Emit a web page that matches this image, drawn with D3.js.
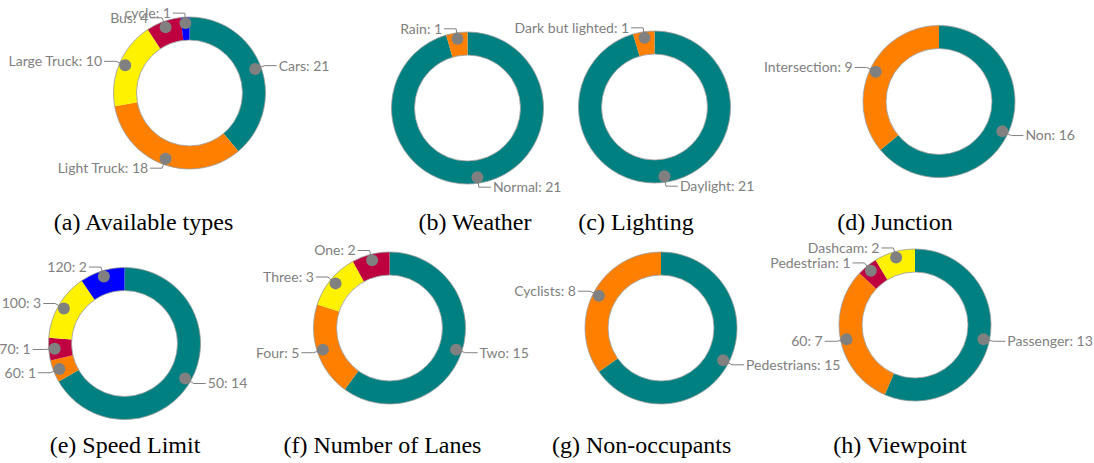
<!DOCTYPE html>
<html>
<head>
<meta charset="utf-8">
<script src="https://cdn.jsdelivr.net/npm/d3@7"></script>
<style>
  body { margin: 0; background: #fff; }
  svg { display: block; }
</style>
</head>
<body>
<div id="chart-container"></div>
<script>
// data, slices listed clockwise from 12 o'clock
const typesLabels = ['Cars', 'Light Truck', 'Large Truck', 'Bus', 'cycle']
const typesValues = [21, 18, 10, 4, 1]

const weatherLabels = ['Normal', 'Rain']
const weatherValues = [21, 1]

const lightingLabels = ['Daylight', 'Dark but lighted']
const lightingValues = [21, 1]

const junctionLabels = ['Non', 'Intersection']
const junctionValues = [16, 9]

const speedLabels = ['50', '60', '70', '100', '120']
const speedValues = [14, 1, 1, 3, 2]

const lanesLabels = ['Two', 'Four', 'Three', 'One']
const lanesValues = [15, 5, 3, 2]

const nonOccLabels = ['Pedestrians', 'Cyclists']
const nonOccValues = [15, 8]

const viewLabels = ['Passenger', '60', 'Pedestrian', 'Dashcam']
const viewValues = [13, 7, 1, 2]

const captions = ['(a) Available types', '(b) Weather', '(c) Lighting', '(d) Junction',
  '(e) Speed Limit', '(f) Number of Lanes', '(g) Non-occupants', '(h) Viewpoint']

// colours, one per slice
const teal = '#008080', orange = '#ff8000', yellow = '#fff200', purple = '#bf0040', blue = '#0000ff'
const typesColors = [teal, orange, yellow, purple, blue]
const speedColors = [teal, orange, purple, yellow, blue]
const lanesColors = [teal, orange, yellow, purple]
const viewColors = [teal, orange, purple, yellow]
const twoColors = [teal, orange]

const width = 1094
const height = 463

// layout of each sub figure: donut centre and caption position
const panels = [
  { labels: typesLabels, values: typesValues, colors: typesColors, cx: 189.5, cy: 93, capX: 143.5, capY: 230 },
  { labels: weatherLabels, values: weatherValues, colors: twoColors, cx: 467.5, cy: 108, capX: 475, capY: 230 },
  { labels: lightingLabels, values: lightingValues, colors: twoColors, cx: 654.5, cy: 107, capX: 636, capY: 230 },
  { labels: junctionLabels, values: junctionValues, colors: twoColors, cx: 939, cy: 101.5, capX: 895, capY: 230 },
  { labels: speedLabels, values: speedValues, colors: speedColors, cx: 124.5, cy: 343.5, capX: 125, capY: 453 },
  { labels: lanesLabels, values: lanesValues, colors: lanesColors, cx: 389.5, cy: 328, capX: 382.5, capY: 453 },
  { labels: nonOccLabels, values: nonOccValues, colors: twoColors, cx: 661, cy: 328, capX: 641.7, capY: 453 },
  { labels: viewLabels, values: viewValues, colors: viewColors, cx: 915, cy: 325, capX: 900, capY: 453 }
]

const outerR = 76
const innerR = 53
const dotR = 70
const elbowR = 80
const lineLen = 12
const gray = '#808080'

const svg = d3.select('#chart-container')
  .append('svg')
  .attr('width', width)
  .attr('height', height)

const pie = d3.pie().sort(null).value(d => d.value)
const arc = d3.arc().innerRadius(innerR).outerRadius(outerR)
const dotArc = d3.arc().innerRadius(dotR).outerRadius(dotR)
const elbowArc = d3.arc().innerRadius(elbowR).outerRadius(elbowR)

panels.forEach((p, k) => {
  const rows = p.labels.map((l, i) => ({ label: l, value: p.values[i], color: p.colors[i] }))
  const arcs = pie(rows)
  const g = svg.append('g').attr('transform', `translate(${p.cx},${p.cy})`)

  g.selectAll('path.slice')
    .data(arcs)
    .enter()
    .append('path')
    .attr('class', 'slice')
    .attr('d', arc)
    .attr('fill', d => d.data.color)

  // thin outline round the ring
  g.selectAll('circle.edge')
    .data([outerR, innerR])
    .enter()
    .append('circle')
    .attr('class', 'edge')
    .attr('r', d => d)
    .attr('fill', 'none')
    .attr('stroke', '#999')
    .attr('stroke-width', 0.8)

  const side = d => ((d.startAngle + d.endAngle) / 2 < Math.PI ? 1 : -1)

  g.selectAll('polyline')
    .data(arcs)
    .enter()
    .append('polyline')
    .attr('points', d => {
      const a = dotArc.centroid(d)
      const b = elbowArc.centroid(d)
      const c = [b[0] + side(d) * lineLen, b[1]]
      return [a, b, c].map(q => q.join(',')).join(' ')
    })
    .attr('fill', 'none')
    .attr('stroke', gray)
    .attr('stroke-width', 1)

  g.selectAll('circle.dot')
    .data(arcs)
    .enter()
    .append('circle')
    .attr('class', 'dot')
    .attr('cx', d => dotArc.centroid(d)[0])
    .attr('cy', d => dotArc.centroid(d)[1])
    .attr('r', 6)
    .attr('fill', gray)

  g.selectAll('text.lbl')
    .data(arcs)
    .enter()
    .append('text')
    .attr('class', 'lbl')
    .attr('x', d => elbowArc.centroid(d)[0] + side(d) * (lineLen + 2))
    .attr('y', d => elbowArc.centroid(d)[1])
    .attr('dy', '0.35em')
    .attr('text-anchor', d => (side(d) > 0 ? 'start' : 'end'))
    .style('font-family', 'Lato, sans-serif')
    .style('font-size', '14px')
    .attr('fill', gray)
    .text(d => `${d.data.label}: ${d.data.value}`)

  svg.append('text')
    .attr('x', p.capX)
    .attr('y', p.capY)
    .attr('text-anchor', 'middle')
    .style('font-family', '"Liberation Serif", serif')
    .style('font-size', '24px')
    .attr('fill', '#000')
    .text(captions[k])
})
</script>
</body>
</html>
